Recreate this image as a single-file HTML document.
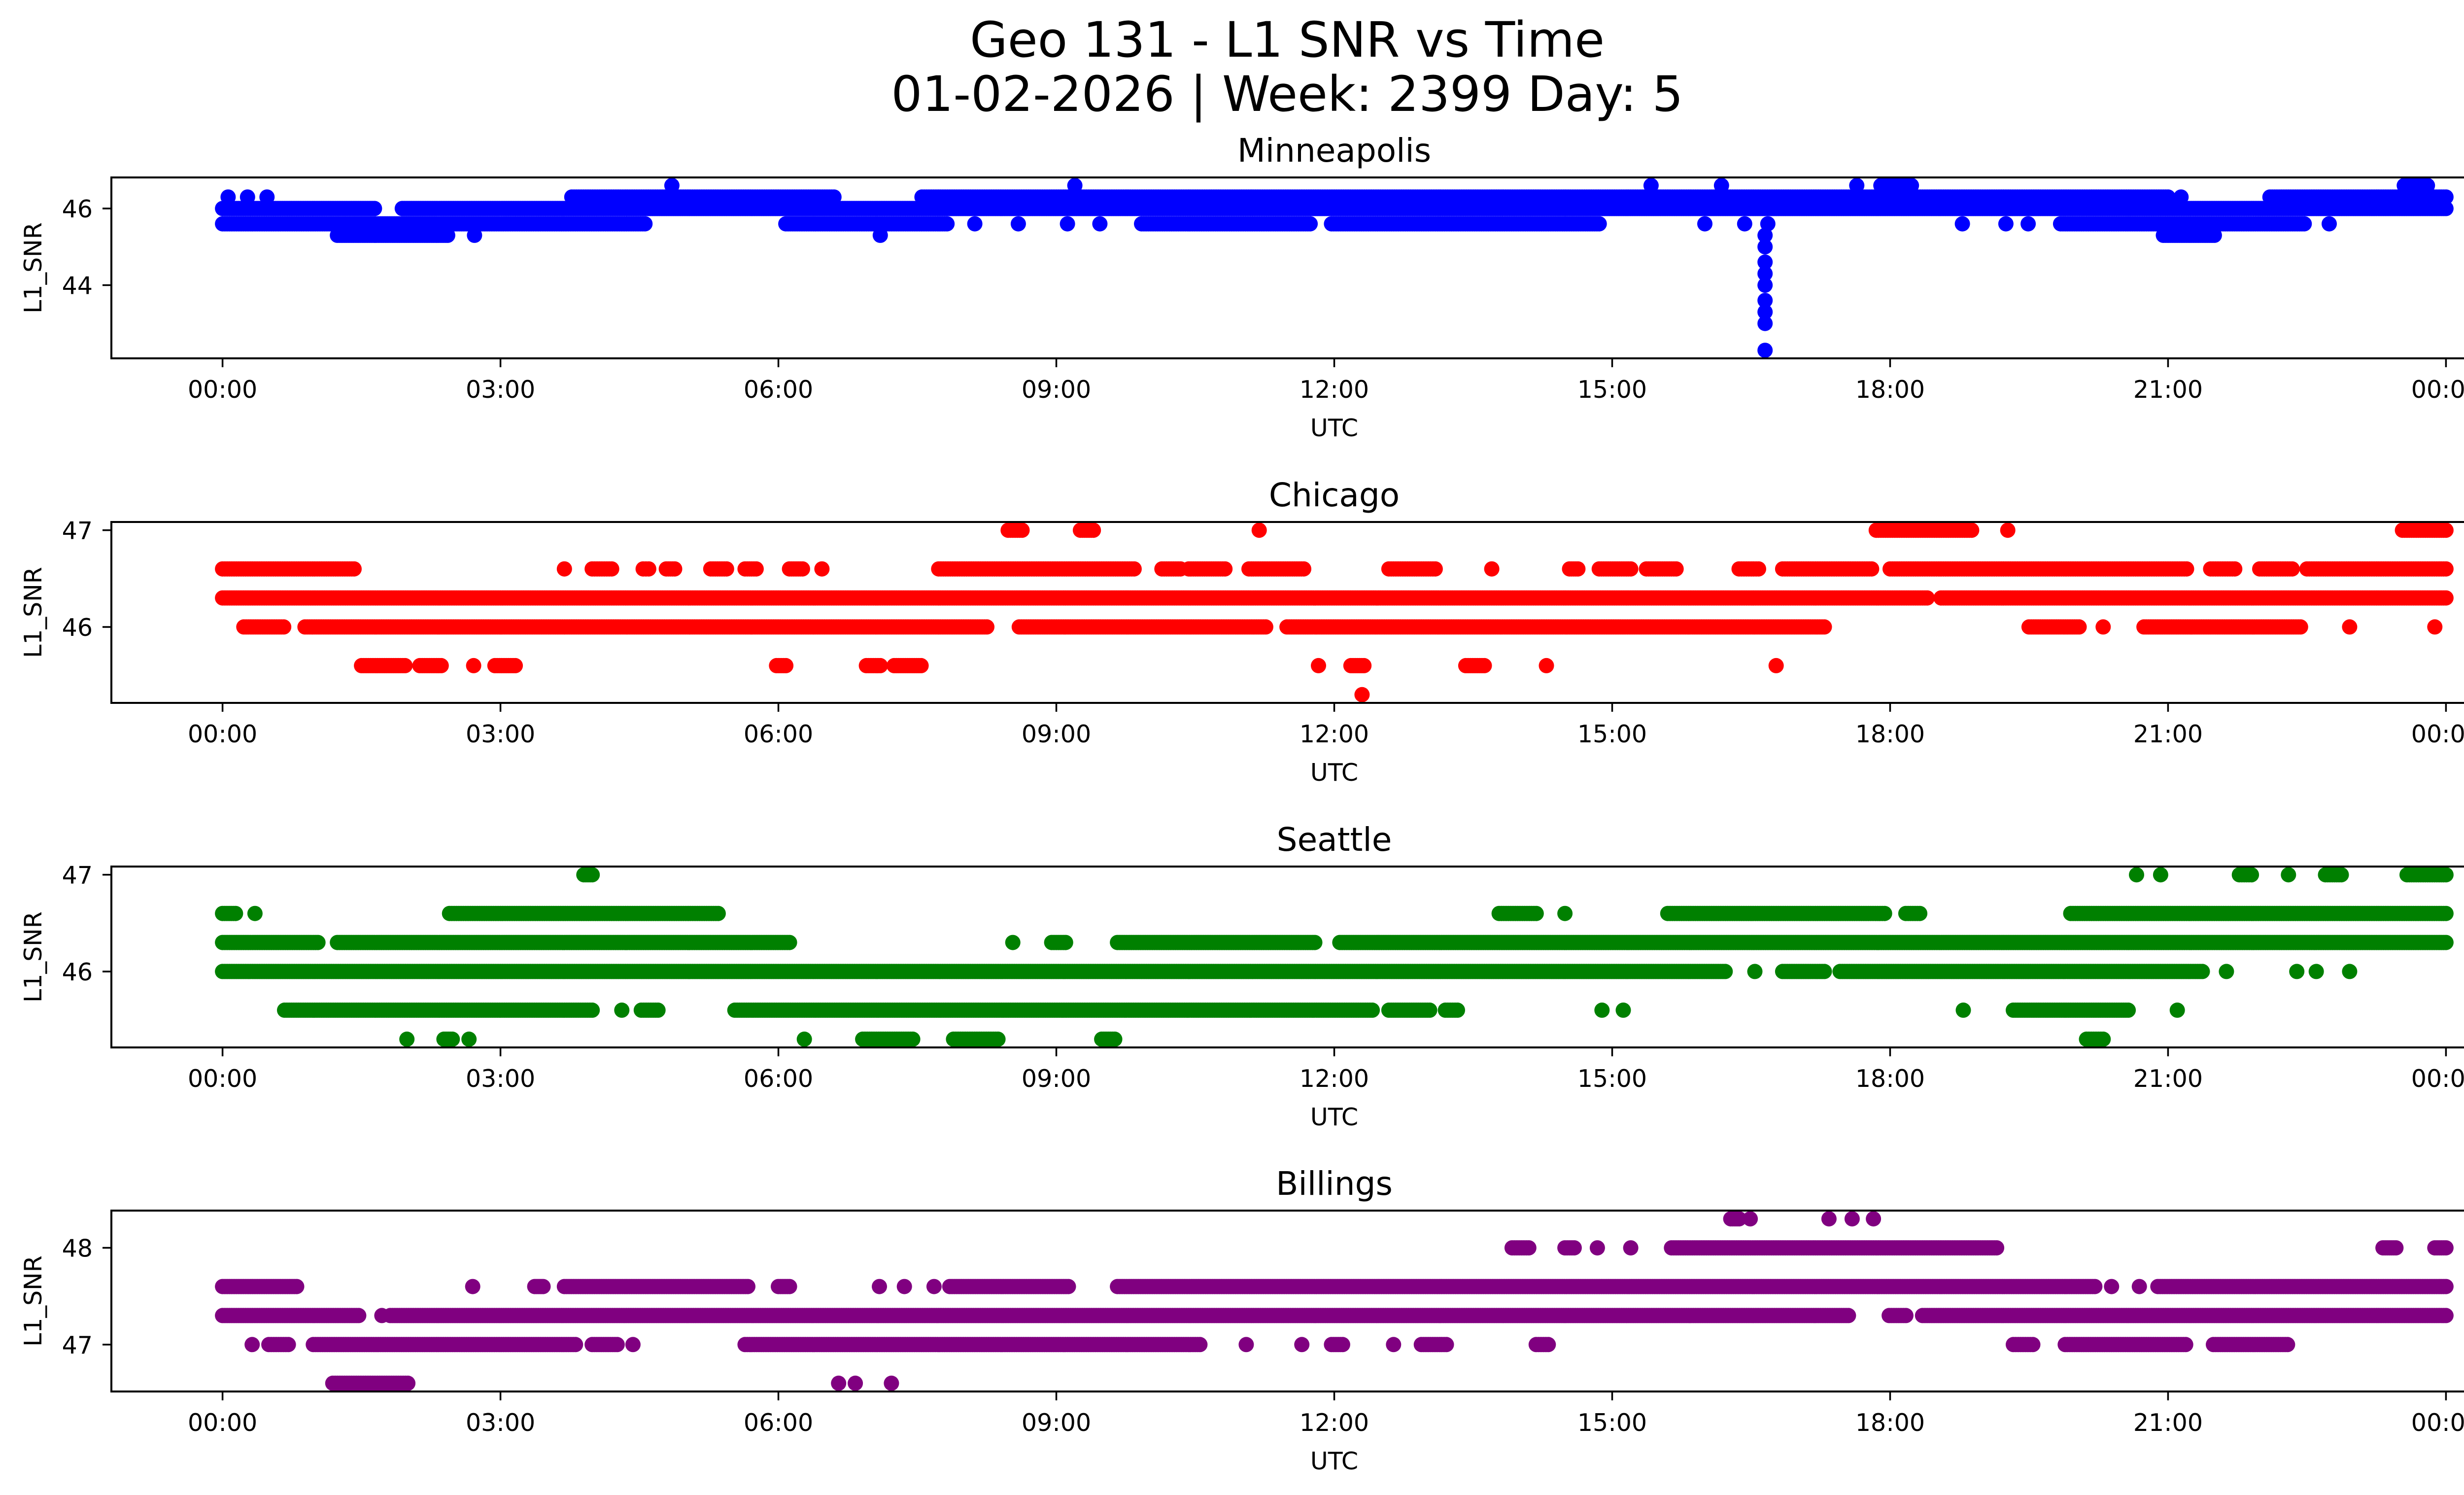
<!DOCTYPE html>
<html><head><meta charset="utf-8">
<style>
html,body{margin:0;padding:0;background:#fff;}
svg{display:block;font-family:"DejaVu Sans","Liberation Sans",sans-serif;}
</style></head>
<body>
<svg id="fig" xmlns="http://www.w3.org/2000/svg" width="5225" height="3033" viewBox="0 0 5225 3033">
<rect width="5225" height="3033" fill="#fff"/>
<text x="2612" y="115" font-size="99" text-anchor="middle">Geo 131 - L1 SNR vs Time</text>
<text x="2612" y="225" font-size="99" text-anchor="middle">01-02-2026 | Week: 2399 Day: 5</text>
</svg>
<script>
// ---- data (hours UTC, SNR) : runs are [level, startHour, endHour]
const xTickLabels = ["00:00","03:00","06:00","09:00","12:00","15:00","18:00","21:00","00:00"];
const xTickHours = [0,3,6,9,12,15,18,21,24];
const stationNames = ["Minneapolis","Chicago","Seattle","Billings"];
const stationColors = ["#0000ff","#ff0000","#008000","#800080"];
const yDomains = [[42.09,46.81],[45.215,47.085],[45.215,47.085],[46.515,48.385]];
const yTicks1 = [44,46];
const yTicks2 = [46,47];
const yTicks3 = [46,47];
const yTicks4 = [47,48];
const minneapolisRuns = [
[46.6,4.85,4.85],[46.6,9.2,9.2],[46.6,15.42,15.42],[46.6,16.18,16.18],[46.6,17.64,17.64],[46.6,17.9,18.23],[46.6,23.55,23.8],
[46.3,0.06,0.06],[46.3,0.27,0.27],[46.3,0.48,0.48],[46.3,3.77,6.6],[46.3,7.55,21.0],[46.3,21.14,21.14],[46.3,22.1,24],
[46.0,0,1.64],[46.0,1.94,24],
[45.6,0,4.56],[45.6,6.08,7.82],[45.6,8.12,8.12],[45.6,8.59,8.59],[45.6,9.12,9.12],[45.6,9.47,9.47],[45.6,9.92,11.74],[45.6,11.97,14.86],[45.6,16.0,16.0],[45.6,16.43,16.43],[45.6,16.68,16.68],[45.6,18.78,18.78],[45.6,19.25,19.25],[45.6,19.49,19.49],[45.6,19.84,22.47],[45.6,22.74,22.74],
[45.3,1.24,2.43],[45.3,2.72,2.72],[45.3,7.1,7.1],[45.3,20.95,21.5],
[45.3,16.65,16.65],[45.0,16.65,16.65],[44.6,16.65,16.65],[44.3,16.65,16.65],[44.0,16.65,16.65],[43.6,16.65,16.65],[43.3,16.65,16.65],[43.0,16.65,16.65],[42.3,16.65,16.65]
];
const chicagoRuns = [
[47.0,8.48,8.63],[47.0,9.26,9.4],[47.0,11.19,11.19],[47.0,17.85,18.88],[47.0,19.27,19.27],[47.0,23.53,24],
[46.6,0,1.42],[46.6,3.69,3.69],[46.6,3.99,4.2],[46.6,4.54,4.6],[46.6,4.79,4.88],[46.6,5.27,5.44],[46.6,5.64,5.76],[46.6,6.12,6.26],[46.6,6.47,6.47],[46.6,7.73,9.84],[46.6,10.14,10.34],[46.6,10.43,10.82],[46.6,11.08,11.67],[46.6,12.59,13.09],[46.6,13.7,13.7],[46.6,14.54,14.63],[46.6,14.86,15.2],[46.6,15.37,15.69],[46.6,16.37,16.58],[46.6,16.84,17.8],[46.6,18.0,21.2],[46.6,21.46,21.72],[46.6,21.99,22.34],[46.6,22.5,24],
[46.3,0,18.4],[46.3,18.55,24],
[46.0,0.23,0.66],[46.0,0.89,8.25],[46.0,8.6,11.26],[46.0,11.49,17.29],[46.0,19.5,20.04],[46.0,20.3,20.3],[46.0,20.74,22.43],[46.0,22.96,22.96],[46.0,23.88,23.88],
[45.6,1.5,1.97],[45.6,2.13,2.36],[45.6,2.71,2.71],[45.6,2.94,3.16],[45.6,5.98,6.08],[45.6,6.95,7.1],[45.6,7.25,7.54],[45.6,11.83,11.83],[45.6,12.18,12.32],[45.6,13.42,13.62],[45.6,14.29,14.29],[45.6,16.77,16.77],
[45.3,12.3,12.3]
];
const seattleRuns = [
[47.0,3.9,3.99],[47.0,20.66,20.66],[47.0,20.92,20.92],[47.0,21.77,21.9],[47.0,22.3,22.3],[47.0,22.7,22.87],[47.0,23.58,24],
[46.6,0,0.14],[46.6,0.35,0.35],[46.6,2.45,5.35],[46.6,13.78,14.18],[46.6,14.49,14.49],[46.6,15.6,17.94],[46.6,18.17,18.32],[46.6,19.95,24],
[46.3,0,1.03],[46.3,1.24,6.12],[46.3,8.53,8.53],[46.3,8.95,9.1],[46.3,9.66,11.79],[46.3,12.06,24],
[46.0,0,16.22],[46.0,16.54,16.54],[46.0,16.84,17.29],[46.0,17.46,21.37],[46.0,21.63,21.63],[46.0,22.39,22.39],[46.0,22.6,22.6],[46.0,22.96,22.96],
[45.6,0.67,3.99],[45.6,4.31,4.31],[45.6,4.52,4.7],[45.6,5.53,12.41],[45.6,12.59,13.03],[45.6,13.2,13.33],[45.6,14.89,14.89],[45.6,15.12,15.12],[45.6,18.79,18.79],[45.6,19.33,20.57],[45.6,21.1,21.1],
[45.3,1.99,1.99],[45.3,2.39,2.48],[45.3,2.66,2.66],[45.3,6.28,6.28],[45.3,6.91,7.45],[45.3,7.89,8.37],[45.3,9.49,9.63],[45.3,20.12,20.3]
];
const billingsRuns = [
[48.3,16.28,16.37],[48.3,16.49,16.49],[48.3,17.34,17.34],[48.3,17.59,17.59],[48.3,17.82,17.82],
[48.0,13.92,14.1],[48.0,14.49,14.59],[48.0,14.84,14.84],[48.0,15.2,15.2],[48.0,15.64,19.15],[48.0,23.32,23.46],[48.0,23.88,24],
[47.6,0,0.8],[47.6,2.7,2.7],[47.6,3.37,3.46],[47.6,3.69,5.67],[47.6,6.0,6.12],[47.6,7.09,7.09],[47.6,7.36,7.36],[47.6,7.68,7.68],[47.6,7.85,9.13],[47.6,9.66,20.21],[47.6,20.39,20.39],[47.6,20.69,20.69],[47.6,20.89,24],
[47.3,0,1.47],[47.3,1.72,1.72],[47.3,1.81,17.55],[47.3,17.99,18.17],[47.3,18.35,24],
[47.0,0.32,0.32],[47.0,0.5,0.71],[47.0,0.98,3.81],[47.0,3.99,4.26],[47.0,4.43,4.43],[47.0,5.64,10.55],[47.0,11.05,11.05],[47.0,11.65,11.65],[47.0,11.97,12.09],[47.0,12.64,12.64],[47.0,12.94,13.21],[47.0,14.18,14.31],[47.0,19.33,19.54],[47.0,19.89,21.19],[47.0,21.49,22.29],
[46.6,1.19,2.0],[46.6,6.65,6.65],[46.6,6.83,6.83],[46.6,7.22,7.22]
];
const allRuns = [minneapolisRuns, chicagoRuns, seattleRuns, billingsRuns];
const allYTicks = [yTicks1, yTicks2, yTicks3, yTicks4];

// ---- layout
const NS = "http://www.w3.org/2000/svg";
const svg = document.getElementById("fig");
const axLeft = 226, axRight = 5189, axH = 367;
const axTops = [360, 1059, 1758, 2456];
const xDomain = [-1.2, 25.2];
const xScale = h => axLeft + (h - xDomain[0]) / (xDomain[1] - xDomain[0]) * (axRight - axLeft);
function mk(tag, attrs, parent){ const e = document.createElementNS(NS, tag); for (const k in attrs) e.setAttribute(k, attrs[k]); (parent||svg).appendChild(e); return e; }

stationNames.forEach((name, i) => {
  const top = axTops[i], bottom = top + axH;
  const [y0, y1] = yDomains[i];
  const yScale = v => bottom - (v - y0) / (y1 - y0) * axH;
  const g = mk("g", {});
  
  

  const title = mk("text", {x: (axLeft+axRight)/2, y: top - 32, "font-size": 66, "text-anchor": "middle"}, g);
  title.textContent = name;
  
  

  const pts = mk("g", {fill: stationColors[i]}, g);
  
  
  allRuns[i].forEach(([lvl, s, e]) => {
    const step = 0.025;
    const n = Math.max(0, Math.round((e - s) / step));
    for (let k = 0; k <= n; k++) {
      const h = n === 0 ? s : s + (e - s) * k / n;
      const c = mk("circle", {cx: xScale(h).toFixed(1), cy: yScale(lvl).toFixed(1), r: 15.5}, pts);
      
      
    }
  });

  const frame = mk("rect", {x: axLeft, y: top, width: axRight-axLeft, height: axH, fill: "none", stroke: "#000", "stroke-width": 4}, g);
  
  

  xTickHours.forEach((h, t) => {
    const x = xScale(h);
    const tk = mk("line", {x1: x, x2: x, y1: bottom, y2: bottom + 18, stroke: "#000", "stroke-width": 3.5}, g);
    
    
    const lb = mk("text", {x: x, y: bottom + 80, "font-size": 49, "text-anchor": "middle"}, g);
    lb.textContent = xTickLabels[t];
    
    
  });
  const xl = mk("text", {x: (axLeft+axRight)/2, y: bottom + 158, "font-size": 49, "text-anchor": "middle"}, g);
  xl.textContent = "UTC";
  
  

  allYTicks[i].forEach(v => {
    const y = yScale(v);
    const tk = mk("line", {x1: axLeft - 18, x2: axLeft, y1: y, y2: y, stroke: "#000", "stroke-width": 3.5}, g);
    
    
    const lb = mk("text", {x: axLeft - 38, y: y + 18, "font-size": 49, "text-anchor": "end"}, g);
    lb.textContent = String(v);
    
    
  });
  const cy = top + axH/2;
  const yl = mk("text", {x: 84, y: cy, "font-size": 49, "text-anchor": "middle", transform: `rotate(-90 84 ${cy})`}, g);
  yl.textContent = "L1_SNR";
  
  
});
</script>
</body></html>
